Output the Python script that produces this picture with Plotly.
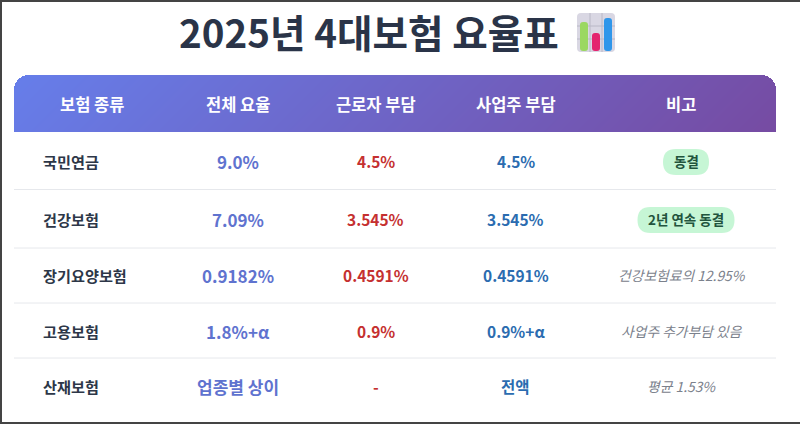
import numpy as np
import plotly.graph_objects as go

FONT = "Noto Sans CJK KR"

title = "2025년 4대보험 요율표"
columns = ["보험 종류", "전체 요율", "근로자 부담", "사업주 부담", "비고"]
insurance = ["국민연금", "건강보험", "장기요양보험", "고용보험", "산재보험"]
total_rate = ["9.0%", "7.09%", "0.9182%", "1.8%+α", "업종별 상이"]
employee = ["4.5%", "3.545%", "0.4591%", "0.9%", "-"]
employer = ["4.5%", "3.545%", "0.4591%", "0.9%+α", "전액"]
notes = ["동결", "2년 연속 동결", "건강보험료의 12.95%", "사업주 추가부담 있음", "평균 1.53%"]
has_badge = [True, True, False, False, False]

W, H = 800, 424
# table layout in page pixels
left, right, head_top, head_bot, radius = 14, 776, 75, 132, 15
col_x = [91.5, 238, 375.5, 515.5, 681]
row_y = [162, 220, 276, 332, 387]
line_y = [189.5, 248, 303, 358]
badge_w = [46, 97]


def txt(x, y, s, size, color, bold=True, italic=False, anchor="center"):
    return dict(x=x, y=y, xref="x", yref="y", text=s, showarrow=False, xanchor=anchor, yanchor="middle",
                font=dict(family=FONT, size=size, color=color, weight=700 if bold else 400,
                          style="italic" if italic else "normal"))


def rrect(x0, y0, x1, y1, r, **kw):
    path = (f"M{x0+r},{y0} L{x1-r},{y0} Q{x1},{y0} {x1},{y0+r} L{x1},{y1-r} Q{x1},{y1} {x1-r},{y1} "
            f"L{x0+r},{y1} Q{x0},{y1} {x0},{y1-r} L{x0},{y0+r} Q{x0},{y0} {x0+r},{y0} Z")
    return dict(type="path", path=path, xref="x", yref="y", **kw)


# header gradient, corners masked out
gx = np.arange(left, right) + 0.5
gy = np.arange(head_top, head_bot) + 0.5
xx, yy = np.meshgrid(gx, gy)
grad = ((xx - left) + (yy - head_top)) / ((right - left) + (head_bot - head_top))
for cx in (left + radius, right - radius):
    dx = np.abs(xx - cx)
    dy = head_top + radius - yy
    outside = (dy > 0) & (dx**2 + dy**2 > radius**2) & (((xx < cx) & (cx < 400)) | ((xx > cx) & (cx > 400)))
    grad[outside] = np.nan

fig = go.Figure(go.Heatmap(x=gx, y=gy, z=grad, colorscale=[[0, "#667eea"], [1, "#764ba2"]], zmin=0, zmax=1,
                           showscale=False, hoverinfo="skip"))

shapes = []
# page frame
shapes.append(dict(type="rect", x0=0, x1=2, y0=0, y1=H, xref="x", yref="y", fillcolor="#444444", line_width=0))
shapes.append(dict(type="rect", x0=0, x1=W, y0=0, y1=2, xref="x", yref="y", fillcolor="#444444", line_width=0))
shapes.append(dict(type="rect", x0=0, x1=W, y0=422, y1=H, xref="x", yref="y", fillcolor="#444444", line_width=0))

for y in line_y:
    shapes.append(dict(type="line", x0=left, x1=right, y0=y, y1=y, xref="x", yref="y",
                       line=dict(color="#e6e8ec", width=1)))

# chart emoji next to the title
shapes.append(rrect(577, 13, 615, 52, 4, fillcolor="#d9d7e3", line_width=0))
for gxx in (590, 602):
    shapes.append(dict(type="line", x0=gxx, x1=gxx, y0=13, y1=52, xref="x", yref="y",
                       line=dict(color="#b9b8c6", width=1)))
for gyy in (26, 39):
    shapes.append(dict(type="line", x0=577, x1=615, y0=gyy, y1=gyy, xref="x", yref="y",
                       line=dict(color="#b9b8c6", width=1)))
shapes.append(rrect(580, 22, 588, 51, 3, fillcolor="#9bd862", line_width=0))
shapes.append(rrect(592, 33, 600, 51, 3, fillcolor="#e4246e", line_width=0))
shapes.append(rrect(604, 18, 612, 51, 3, fillcolor="#2f96ea", line_width=0))

ann = [txt(369, 31, title, 38.6, "#2a3448")]

for x, c in zip(col_x, columns):
    ann.append(txt(x, 104, c, 16.5, "#ffffff"))

for i, y in enumerate(row_y):
    ann.append(txt(41, y - 1, insurance[i], 15.2, "#2d3748", anchor="left"))
    ann.append(txt(col_x[1], y - 1, total_rate[i], 17, "#5f73cf"))
    ann.append(txt(col_x[2], y - 1, employee[i], 15.5, "#c53030"))
    ann.append(txt(col_x[3], y - 1, employer[i], 15.5, "#2b6cb0"))
    if has_badge[i]:
        w = badge_w[i]
        shapes.append(rrect(686 - w / 2, y - 13, 686 + w / 2, y + 13, 13, fillcolor="#c6f6d5", line_width=0))
        ann.append(txt(686, y - 1, notes[i], 13.5, "#22543d"))
    else:
        ann.append(txt(681.5, y - 1, notes[i], 13.8, "#7b818c", bold=False, italic=True))

fig.update_layout(width=W, height=H, margin=dict(l=0, r=0, t=0, b=0), autosize=False,
                  paper_bgcolor="#ffffff", plot_bgcolor="#ffffff", shapes=shapes, annotations=ann,
                  xaxis=dict(range=[0, W], visible=False, fixedrange=True),
                  yaxis=dict(range=[H, 0], visible=False, fixedrange=True))

# drop the page's default body margin so the figure fills the window
fig.write_html("out.html", config=dict(displayModeBar=False),
               post_script="document.body.style.margin='0';document.body.style.overflow='hidden';")
